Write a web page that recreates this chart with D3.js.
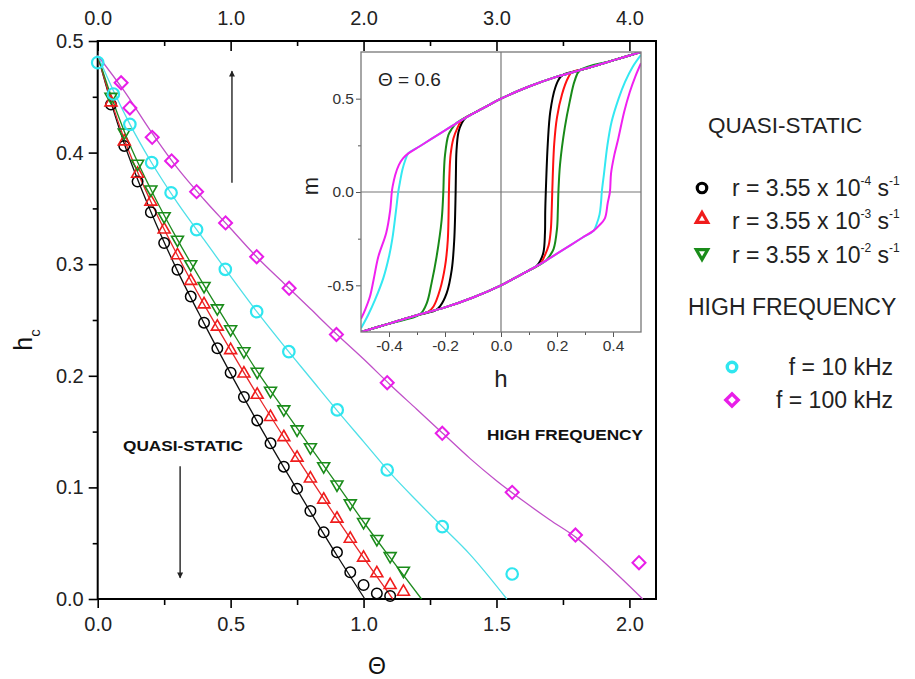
<!DOCTYPE html>
<html><head><meta charset="utf-8">
<script src="https://cdn.jsdelivr.net/npm/d3@7"></script>
<style>body{margin:0;background:#fff}svg{display:block;font-family:"Liberation Sans",Arial,sans-serif}</style>
</head><body><svg id="c" width="915" height="679"></svg>
<script>
// ---------- main chart data ----------
const qsTheta = [0.05,0.10,0.15,0.20,0.25,0.30,0.35,0.40,0.45,0.50,0.55,0.60,0.65,0.70,0.75,0.80,0.85,0.90,0.95,1.00,1.05,1.10,1.15];
const blackHc = [0.443,0.406,0.374,0.3465,0.319,0.295,0.271,0.2476,0.2246,0.2028,0.181,0.160,0.1395,0.1186,0.0989,0.0789,0.0597,0.0418,0.024,0.0125,0.005,0.0027];
const redHc   = [0.445,0.41,0.381,0.356,0.331,0.308,0.285,0.264,0.244,0.223,0.202,0.183,0.163,0.145,0.1266,0.108,0.089,0.072,0.054,0.037,0.023,0.0125,0.0065];
const greenHc = [0.45,0.418,0.39,0.367,0.343,0.322,0.30,0.2805,0.2605,0.2417,0.222,0.2037,0.1867,0.170,0.152,0.136,0.119,0.1027,0.0857,0.069,0.0538,0.0385,0.0254];
const cyanTheta = [0,0.059,0.121,0.203,0.276,0.372,0.48,0.598,0.719,0.901,1.089,1.296,1.559];
const cyanHc    = [0.4806,0.4525,0.4253,0.391,0.364,0.331,0.2954,0.2575,0.2216,0.1694,0.1156,0.0648,0.0224];
const magTheta = [0.088,0.121,0.205,0.278,0.372,0.481,0.598,0.72,0.898,1.089,1.296,1.559,1.797,2.036];
const magHc    = [0.4626,0.440,0.4137,0.3925,0.365,0.337,0.3067,0.2784,0.237,0.1938,0.1485,0.0956,0.0573,0.0325];

// fitted curves
const blackFitT = [0,0.05,0.1,0.2,0.3,0.4,0.5,0.6,0.7,0.8,0.9,1.005];
const blackFitH = [0.487,0.445,0.408,0.347,0.294,0.247,0.202,0.159,0.118,0.078,0.039,0];
const redFitT = [0,0.05,0.1,0.2,0.3,0.4,0.5,0.6,0.7,0.8,0.9,1.0,1.11];
const redFitH = [0.487,0.447,0.412,0.356,0.308,0.264,0.223,0.183,0.145,0.108,0.072,0.037,0];
const greenFitT = [0,0.05,0.1,0.2,0.3,0.4,0.5,0.6,0.7,0.8,0.9,1.0,1.1,1.218];
const greenFitH = [0.487,0.451,0.419,0.367,0.322,0.281,0.242,0.204,0.170,0.136,0.103,0.069,0.037,0];
const cyanFitT = [0,0.06,0.12,0.2,0.3,0.4,0.5,0.6,0.7,0.8,0.9,1.0,1.1,1.2,1.3,1.4,1.539];
const cyanFitH = [0.487,0.455,0.426,0.392,0.355,0.322,0.289,0.257,0.227,0.198,0.169,0.141,0.113,0.088,0.064,0.040,0];
const magFitT = [0,0.1,0.2,0.3,0.4,0.5,0.6,0.7,0.8,0.9,1.0,1.1,1.2,1.3,1.4,1.5,1.6,1.7,1.8,1.9,2.05];
const magFitH = [0.487,0.455,0.419,0.386,0.358,0.332,0.306,0.283,0.260,0.237,0.215,0.192,0.170,0.148,0.126,0.106,0.088,0.071,0.055,0.034,0];

// axis ticks
const xBottomTicks = [0,0.5,1.0,1.5,2.0];
const xBottomMinor = [0.25,0.75,1.25,1.75];
const yTicks = [0,0.1,0.2,0.3,0.4,0.5];
const yMinor = [0.05,0.15,0.25,0.35,0.45];
const xTopTicks = [0,1,2,3,4];
const xTopMinor = [0.5,1.5,2.5,3.5];

// ---------- inset data (hysteresis loops, Θ = 0.6) ----------
const upperEnvH = [-0.331,-0.29,-0.25,-0.2,-0.15,-0.1,-0.05,0,0.1,0.2,0.3,0.4,0.5];
const upperEnvM = [0.207,0.245,0.283,0.33,0.377,0.42,0.46,0.5,0.565,0.618,0.66,0.705,0.75];
const lowerEnvH = [-0.5,-0.4,-0.3,-0.2,-0.1,0,0.05,0.1,0.15,0.2,0.25,0.29,0.331];
const lowerEnvM = [-0.75,-0.705,-0.66,-0.618,-0.565,-0.5,-0.46,-0.42,-0.377,-0.33,-0.283,-0.245,-0.207];

const blackDownH = [-0.127,-0.14,-0.152,-0.159,-0.161,-0.162,-0.167,-0.176,-0.194,-0.218,-0.236];
const blackDownM = [0.397,0.37,0.32,0.22,0.1,0,-0.257,-0.417,-0.542,-0.613,-0.636];
const blackUpH = [0.127,0.14,0.152,0.157,0.158,0.16,0.167,0.176,0.194,0.212,0.228];
const blackUpM = [-0.397,-0.37,-0.32,-0.22,-0.1,0,0.257,0.43,0.56,0.615,0.632];
const redDownH = [-0.14,-0.155,-0.17,-0.18,-0.184,-0.186,-0.19,-0.2,-0.218,-0.241,-0.262];
const redDownM = [0.386,0.345,0.287,0.2,0.1,0,-0.257,-0.40,-0.524,-0.613,-0.644];
const redUpH = [0.14,0.155,0.17,0.178,0.181,0.183,0.19,0.2,0.218,0.24,0.2525];
const redUpM = [-0.386,-0.345,-0.287,-0.2,-0.1,0,0.257,0.40,0.524,0.613,0.64];
const greenDownH = [-0.16,-0.175,-0.188,-0.2,-0.204,-0.206,-0.212,-0.23,-0.248,-0.265,-0.289];
const greenDownM = [0.368,0.34,0.305,0.198,0.1,0,-0.15,-0.346,-0.488,-0.595,-0.655];
const greenUpH = [0.16,0.175,0.188,0.2,0.203,0.205,0.211,0.228,0.246,0.263,0.282];
const greenUpM = [-0.368,-0.34,-0.305,-0.198,-0.1,0,0.15,0.346,0.488,0.595,0.652];
const cyanDownH = [-0.331,-0.342,-0.352,-0.36,-0.367,-0.375,-0.388,-0.40,-0.42,-0.45,-0.475,-0.5];
const cyanDownM = [0.207,0.17,0.12,0.06,0,-0.1,-0.25,-0.346,-0.46,-0.578,-0.66,-0.73];
const cyanUpH = [0.331,0.342,0.352,0.357,0.36,0.368,0.38,0.395,0.42,0.443,0.47,0.5];
const cyanUpM = [-0.207,-0.17,-0.12,-0.06,0,0.1,0.25,0.376,0.5,0.59,0.67,0.735];
const magDownH = [-0.331,-0.35,-0.365,-0.378,-0.387,-0.39,-0.396,-0.41,-0.438,-0.455,-0.468,-0.485,-0.5];
const magDownM = [0.207,0.18,0.144,0.09,0.03,0,-0.1,-0.22,-0.346,-0.47,-0.56,-0.63,-0.68];
const magUpH = [0.331,0.35,0.371,0.381,0.389,0.393,0.405,0.419,0.44,0.46,0.48,0.5];
const magUpM = [-0.207,-0.18,-0.141,-0.06,0,0.1,0.2,0.287,0.43,0.536,0.62,0.69];
const insetXTicks = [-0.4,-0.2,0,0.2,0.4];
const insetXMinor = [-0.3,-0.1,0.1,0.3];
const insetYTicks = [-0.5,0,0.5];
const insetYMinor = [-0.25,0.25];

// legend
const legendQS = [
  {sym:"circle", color:"#000", exp:"-4"},
  {sym:"up", color:"#f01c1c", exp:"-3"},
  {sym:"down", color:"#1a8c1a", exp:"-2"}
];
const legendHF = [
  {sym:"circle", color:"#2fe6ef", label:"f = 10 kHz"},
  {sym:"diamond", color:"#e81ee8", label:"f = 100 kHz"}
];

// ---------- drawing ----------
const COL = {black:"#000", red:"#f01c1c", green:"#1a8c1a", cyan:"#2fe6ef", mag:"#e81ee8"};
const svg = d3.select("#c");
const x = d3.scaleLinear().domain([0,2.1]).range([97.7,656]);
const y = d3.scaleLinear().domain([0,0.5]).range([599,41]);
const xTop = d3.scaleLinear().domain([0,4.2]).range([97.7,656]);
const fmt1 = d => d.toFixed(1);

function styleAxis(g, fs, color){
  g.select(".domain").remove();
  g.selectAll(".tick line").attr("stroke","#000").attr("stroke-width",1.6);
  g.selectAll(".tick text").attr("font-size",fs).attr("fill",color).attr("font-family",'"Liberation Sans",Arial,sans-serif');
}
// main axes
const gB = svg.append("g").attr("transform","translate(0,599)")
  .call(d3.axisBottom(x).tickValues(xBottomTicks).tickFormat(fmt1).tickSize(9).tickPadding(9));
styleAxis(gB,20,"#222");
const gBm = svg.append("g").attr("transform","translate(0,599)")
  .call(d3.axisBottom(x).tickValues(xBottomMinor).tickFormat("").tickSize(6));
styleAxis(gBm,20,"#222");
const gL = svg.append("g").attr("transform","translate(97.7,0)")
  .call(d3.axisLeft(y).tickValues(yTicks).tickFormat(fmt1).tickSize(9).tickPadding(5));
styleAxis(gL,20,"#222");
const gLm = svg.append("g").attr("transform","translate(97.7,0)")
  .call(d3.axisLeft(y).tickValues(yMinor).tickFormat("").tickSize(5));
styleAxis(gLm,20,"#222");
const gT = svg.append("g").attr("transform","translate(0,41)")
  .call(d3.axisTop(xTop).tickValues(xTopTicks).tickFormat(fmt1).tickSize(-10).tickPadding(16));
styleAxis(gT,20,"#222");
const gTm = svg.append("g").attr("transform","translate(0,41)")
  .call(d3.axisTop(xTop).tickValues(xTopMinor).tickFormat("").tickSize(-5));
styleAxis(gTm,20,"#222");
// frame
svg.append("rect").attr("x",x(0)).attr("y",y(0.5)).attr("width",x(2.1)-x(0)).attr("height",y(0)-y(0.5))
  .attr("fill","none").attr("stroke","#000").attr("stroke-width",2);

// axis titles
svg.append("text").attr("transform","translate(32,340) rotate(-90)").attr("text-anchor","middle")
  .attr("font-size",25).attr("fill","#111")
  .html('h<tspan font-size="15" dy="8">c</tspan>');
svg.append("text").attr("x",377).attr("y",674).attr("text-anchor","middle").attr("font-size",23).attr("fill","#111").text("Θ");

// fit curves
const lineMain = d3.line().x(d=>x(d[0])).y(d=>y(d[1])).curve(d3.curveMonotoneX);
const fits = [
  [blackFitT,blackFitH,"#111"],[redFitT,redFitH,"#e8282a"],[greenFitT,greenFitH,"#1e8a1e"],
  [cyanFitT,cyanFitH,"#4fe0e8"],[magFitT,magFitH,"#c050c8"]
];
fits.forEach(([T,H,c])=>{
  svg.append("path").attr("d",lineMain(T.map((t,i)=>[t,H[i]]))).attr("fill","none").attr("stroke",c).attr("stroke-width",1.3);
});

// markers
function marker(g, sym, cx, cy, color, sw, scale){
  let el;
  if(sym==="circle"){
    el = g.append("circle").attr("cx",cx).attr("cy",cy).attr("r",5*scale);
  } else if(sym==="up"){
    el = g.append("path").attr("d",d3.symbol(d3.symbolTriangle, 62*scale*scale)()).attr("transform",`translate(${cx},${cy})`);
  } else if(sym==="down"){
    el = g.append("path").attr("d",d3.symbol(d3.symbolTriangle, 62*scale*scale)()).attr("transform",`translate(${cx},${cy}) rotate(180)`);
  } else {
    el = g.append("path").attr("d",d3.symbol(d3.symbolSquare, 85*scale*scale)()).attr("transform",`translate(${cx},${cy}) rotate(45)`);
  }
  el.attr("fill","none").attr("stroke",color).attr("stroke-width",sw);
}
const gm = svg.append("g");
blackHc.forEach((h,i)=>marker(gm,"circle",x(qsTheta[i]),y(h),COL.black,1.5,1.05));
redHc.forEach((h,i)=>marker(gm,"up",x(qsTheta[i]),y(h),COL.red,1.6,1));
greenHc.forEach((h,i)=>marker(gm,"down",x(qsTheta[i]),y(h),COL.green,1.6,1));
cyanHc.forEach((h,i)=>marker(gm,"circle",x(cyanTheta[i]),y(h),COL.cyan,2.2,1.15));
magHc.forEach((h,i)=>marker(gm,"diamond",x(magTheta[i]),y(h),COL.mag,2,1));

// annotations
svg.append("text").attr("x",123).attr("y",451).attr("font-size",15).attr("font-weight","bold").attr("fill","#111")
  .attr("textLength",120).attr("lengthAdjust","spacingAndGlyphs").text("QUASI-STATIC");
svg.append("text").attr("x",487).attr("y",440).attr("font-size",15.5).attr("font-weight","bold").attr("fill","#111")
  .attr("textLength",156).attr("lengthAdjust","spacingAndGlyphs").text("HIGH FREQUENCY");
const defs = svg.append("defs");
defs.append("marker").attr("id","ah").attr("viewBox","0 0 10 10").attr("refX",9).attr("refY",5)
  .attr("markerWidth",4).attr("markerHeight",5).attr("orient","auto").attr("markerUnits","userSpaceOnUse")
  .append("path").attr("d","M0,0 L10,5 L0,10 Z").attr("fill","#222");
defs.select("#ah").attr("markerWidth",9).attr("markerHeight",6);
svg.append("line").attr("x1",x(0.31)).attr("x2",x(0.31)).attr("y1",y(0.119)).attr("y2",y(0.019))
  .attr("stroke","#222").attr("stroke-width",1.4).attr("marker-end","url(#ah)");
svg.append("line").attr("x1",x(0.505)).attr("x2",x(0.505)).attr("y1",y(0.373)).attr("y2",y(0.473))
  .attr("stroke","#222").attr("stroke-width",1.4).attr("marker-end","url(#ah)");

// ---------- inset ----------
const ix = d3.scaleLinear().domain([-0.5,0.5]).range([361,641]);
const iy = d3.scaleLinear().domain([-0.75,0.75]).range([332,52]);
svg.append("rect").attr("x",ix(-0.5)).attr("y",iy(0.75)).attr("width",ix(0.5)-ix(-0.5)).attr("height",iy(-0.75)-iy(0.75))
  .attr("fill","#fff");
defs.append("clipPath").attr("id","ic").append("rect").attr("x",ix(-0.5)).attr("y",iy(0.75))
  .attr("width",ix(0.5)-ix(-0.5)).attr("height",iy(-0.75)-iy(0.75));
// crosshair
svg.append("line").attr("x1",ix(0)).attr("x2",ix(0)).attr("y1",iy(0.75)).attr("y2",iy(-0.75)).attr("stroke","#777").attr("stroke-width",1.2);
svg.append("line").attr("x1",ix(-0.5)).attr("x2",ix(0.5)).attr("y1",iy(0)).attr("y2",iy(0)).attr("stroke","#777").attr("stroke-width",1.2);

function styleInset(g){
  g.select(".domain").remove();
  g.selectAll(".tick line").attr("stroke","#555").attr("stroke-width",1);
  g.selectAll(".tick text").attr("font-size",15.5).attr("fill","#333").attr("font-family",'"Liberation Sans",Arial,sans-serif');
}
const iL = svg.append("g").attr("transform",`translate(${ix(-0.5)},0)`)
  .call(d3.axisLeft(iy).tickValues(insetYTicks).tickFormat(fmt1).tickSize(5).tickPadding(2)); styleInset(iL);
const iLm = svg.append("g").attr("transform",`translate(${ix(-0.5)},0)`)
  .call(d3.axisLeft(iy).tickValues(insetYMinor).tickFormat("").tickSize(3)); styleInset(iLm);
const iB = svg.append("g").attr("transform",`translate(0,${iy(-0.75)})`)
  .call(d3.axisBottom(ix).tickValues(insetXTicks).tickFormat(fmt1).tickSize(5).tickPadding(3)); styleInset(iB);
const iBm = svg.append("g").attr("transform",`translate(0,${iy(-0.75)})`)
  .call(d3.axisBottom(ix).tickValues(insetXMinor).tickFormat("").tickSize(3)); styleInset(iBm);

const lineIn = d3.line().x(d=>ix(d[0])).y(d=>iy(d[1])).curve(d3.curveCatmullRom.alpha(0.5));
const upperEnv = upperEnvH.map((h,i)=>[h,upperEnvM[i]]);
const lowerEnv = lowerEnvH.map((h,i)=>[h,lowerEnvM[i]]);
function descBranch(H,M){
  const sw = H.map((h,i)=>[h,M[i]]);
  const top = upperEnv.filter(p=>p[0]>H[0]+0.02).reverse();
  const bot = lowerEnv.filter(p=>p[0]<H[H.length-1]-0.02).reverse();
  return top.concat(sw,bot);
}
function ascBranch(H,M){
  const sw = H.map((h,i)=>[h,M[i]]);
  const bot = lowerEnv.filter(p=>p[0]<H[0]-0.02);
  const top = upperEnv.filter(p=>p[0]>H[H.length-1]+0.02);
  return bot.concat(sw,top);
}
const gLoops = svg.append("g").attr("clip-path","url(#ic)");
const loops = [
  [blackDownH,blackDownM,blackUpH,blackUpM,"#000"],
  [redDownH,redDownM,redUpH,redUpM,"#ff1010"],
  [greenDownH,greenDownM,greenUpH,greenUpM,"#188a18"],
  [cyanDownH,cyanDownM,cyanUpH,cyanUpM,"#33e8f2"],
  [magDownH,magDownM,magUpH,magUpM,"#f020f0"]
];
loops.forEach(([dH,dM,aH,aM,c])=>{
  gLoops.append("path").attr("d",lineIn(descBranch(dH,dM))).attr("fill","none").attr("stroke",c).attr("stroke-width",2);
  gLoops.append("path").attr("d",lineIn(ascBranch(aH,aM))).attr("fill","none").attr("stroke",c).attr("stroke-width",2);
});
// inset frame
svg.append("rect").attr("x",ix(-0.5)).attr("y",iy(0.75)).attr("width",ix(0.5)-ix(-0.5)).attr("height",iy(-0.75)-iy(0.75))
  .attr("fill","none").attr("stroke","#777").attr("stroke-width",1.3);
svg.append("text").attr("x",378).attr("y",86).attr("font-size",19).attr("fill","#222").text("Θ = 0.6");
svg.append("text").attr("transform","translate(318,186) rotate(-90)").attr("text-anchor","middle").attr("font-size",22).attr("fill","#222").text("m");
svg.append("text").attr("x",501).attr("y",387).attr("text-anchor","middle").attr("font-size",24).attr("fill","#222").text("h");

// ---------- legend ----------
const lg = svg.append("g").attr("fill","#222");
lg.append("text").attr("x",708).attr("y",133).attr("font-size",22.5).text("QUASI-STATIC");
const rowY = [188,221,255];
const symY = [188,219,253];
legendQS.forEach((d,i)=>{
  marker(lg,d.sym,702,symY[i],d.color,3.2,d.sym==="circle"?0.95:0.95);
  const t = lg.append("text").attr("x",732).attr("y",rowY[i]+8).attr("font-size",23);
  t.append("tspan").text("r = 3.55 x 10");
  t.append("tspan").attr("font-size",12).attr("dy",-11).text(d.exp);
  t.append("tspan").attr("dy",11).text(" s");
  t.append("tspan").attr("font-size",12).attr("dy",-11).text("-1");
});
lg.append("text").attr("x",688).attr("y",315).attr("font-size",23).text("HIGH FREQUENCY");
const hfY = [367,400];
legendHF.forEach((d,i)=>{
  marker(lg,d.sym,732,hfY[i],d.color,3.4,0.95);
  lg.append("text").attr("x",893).attr("y",hfY[i]+8).attr("text-anchor","end").attr("font-size",23).text(d.label);
});
</script>
</body></html>
